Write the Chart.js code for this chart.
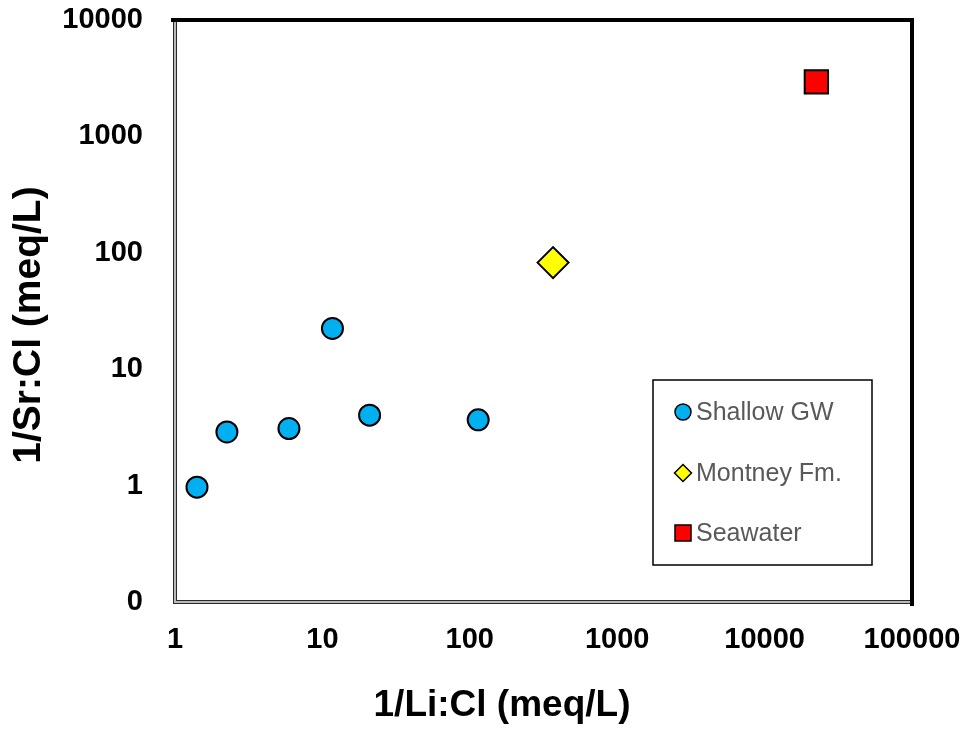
<!DOCTYPE html>
<html>
<head>
<meta charset="utf-8">
<script src="https://cdn.jsdelivr.net/npm/chart.js@4/dist/chart.umd.min.js"></script>
<style>
  html, body { margin: 0; padding: 0; background: #ffffff; }
  #wrap { width: 967px; height: 731px; position: relative; }
</style>
</head>
<body>
<div id="wrap"><canvas id="c" width="967" height="731"></canvas></div>
<script>
// ---- data ----
const seriesNames = ['Shallow GW', 'Montney Fm.', 'Seawater'];
const shallowX = [1.41, 2.25, 5.93, 11.7, 20.9, 114];
const shallowY = [0.97, 2.89, 3.09, 22.4, 4.03, 3.67];
const montneyX = [367];
const montneyY = [82.4];
const seawaterX = [22450];
const seawaterY = [2940];
const xTickValues = [1, 10, 100, 1000, 10000, 100000];
const xTickLabels = ['1', '10', '100', '1000', '10000', '100000'];
const yTickValues = [0.1, 1, 10, 100, 1000, 10000];
const yTickLabels = ['0', '1', '10', '100', '1000', '10000'];
const xTitle = '1/Li:Cl (meq/L)';
const yTitle = '1/Sr:Cl (meq/L)';

const FONT = '"Liberation Sans", Arial, sans-serif';
const toPts = (xs, ys) => xs.map((x, i) => ({ x: x, y: ys[i] }));

const styles = [
  { pointStyle: 'circle', pointRadius: 10.5, backgroundColor: '#00B0F0' },
  { pointStyle: 'rectRot', pointRadius: 15.5, backgroundColor: '#FFFF00' },
  { pointStyle: 'rect', pointRadius: 16.5, backgroundColor: '#FF0000' }
];

const framePlugin = {
  id: 'frame',
  beforeDatasetsDraw(chart) {
    const { ctx, chartArea: a } = chart;
    ctx.save();
    ctx.lineCap = 'square';
    ctx.strokeStyle = '#2a2a2a';
    ctx.lineWidth = 4;
    ctx.beginPath();
    ctx.moveTo(a.left, a.top);
    ctx.lineTo(a.left, a.bottom);
    ctx.lineTo(a.right, a.bottom);
    ctx.stroke();
    ctx.strokeStyle = '#b8b8b8';
    ctx.lineWidth = 2;
    ctx.beginPath();
    ctx.moveTo(a.left, a.top + 1);
    ctx.lineTo(a.left, a.bottom);
    ctx.lineTo(a.right - 1, a.bottom);
    ctx.stroke();
    ctx.strokeStyle = '#000000';
    ctx.lineWidth = 4;
    ctx.beginPath();
    ctx.moveTo(a.left - 2, a.top);
    ctx.lineTo(a.right, a.top);
    ctx.lineTo(a.right, a.bottom + 2);
    ctx.stroke();
    ctx.restore();
  },
  afterDatasetsDraw(chart) {
    const { ctx } = chart;
    ctx.save();
    ctx.strokeStyle = '#000000';
    ctx.lineWidth = 1.5;
    ctx.fillStyle = '#ffffff';
    ctx.fillRect(653, 380, 219, 185);
    ctx.strokeRect(653, 380, 219, 185);
    const rows = [412, 473, 533];
    const mx = 683;
    rows.forEach((y, i) => {
      ctx.fillStyle = styles[i].backgroundColor;
      ctx.strokeStyle = '#000000';
      ctx.lineWidth = 1.5;
      ctx.beginPath();
      if (i === 0) {
        ctx.arc(mx, y, 8, 0, Math.PI * 2);
      } else if (i === 1) {
        ctx.moveTo(mx, y - 8.5); ctx.lineTo(mx + 8.5, y); ctx.lineTo(mx, y + 8.5); ctx.lineTo(mx - 8.5, y); ctx.closePath();
      } else {
        ctx.rect(mx - 8, y - 8, 16, 16);
      }
      ctx.fill();
      ctx.stroke();
      ctx.fillStyle = '#595959';
      ctx.font = '25px ' + FONT;
      ctx.textBaseline = 'middle';
      ctx.textAlign = 'left';
      ctx.fillText(seriesNames[i], 696, y + 1);
    });
    ctx.restore();
  },
  afterDraw(chart) {
    const { ctx } = chart;
    ctx.save();
    ctx.fillStyle = '#000000';
    ctx.textAlign = 'center';
    ctx.textBaseline = 'middle';
    ctx.font = 'bold 37px ' + FONT;
    ctx.fillText(xTitle, 502, 706);
    ctx.font = 'bold 39px ' + FONT;
    ctx.translate(29, 325);
    ctx.rotate(-Math.PI / 2);
    ctx.fillText(yTitle, 0, 0);
    ctx.restore();
  }
};

const data = {
  datasets: [
    { label: seriesNames[0], data: toPts(shallowX, shallowY) },
    { label: seriesNames[1], data: toPts(montneyX, montneyY) },
    { label: seriesNames[2], data: toPts(seawaterX, seawaterY) }
  ].map((d, i) => Object.assign(d, styles[i], {
    borderColor: '#000000',
    borderWidth: 2,
    pointHoverRadius: styles[i].pointRadius,
    showLine: false
  }))
};

function zeroPad(scale) {
  scale.paddingLeft = 0; scale.paddingRight = 0;
  scale.paddingTop = 0; scale.paddingBottom = 0;
}

new Chart(document.getElementById('c'), {
  type: 'scatter',
  data: data,
  plugins: [framePlugin],
  options: {
    responsive: false,
    animation: false,
    devicePixelRatio: 1,
    layout: { padding: { top: 20, right: 55, left: 0, bottom: 0 } },
    plugins: { legend: { display: false }, tooltip: { enabled: false } },
    scales: {
      x: {
        type: 'logarithmic',
        min: 1, max: 100000,
        afterFit(scale) { scale.height = 129; zeroPad(scale); },
        afterBuildTicks(scale) { scale.ticks = xTickValues.map(v => ({ value: v })); },
        grid: { display: false, drawTicks: false },
        border: { display: false },
        ticks: {
          autoSkip: false, maxRotation: 0,
          padding: 21,
          color: '#000000',
          font: { family: FONT, size: 29, weight: 'bold' },
          callback: (v, i) => xTickLabels[i]
        }
      },
      y: {
        type: 'logarithmic',
        min: 0.1, max: 10000,
        afterFit(scale) { scale.width = 175; zeroPad(scale); },
        afterBuildTicks(scale) { scale.ticks = yTickValues.map(v => ({ value: v })); },
        grid: { display: false, drawTicks: false },
        border: { display: false },
        ticks: {
          autoSkip: false,
          padding: 32,
          color: '#000000',
          font: { family: FONT, size: 29, weight: 'bold' },
          callback: (v, i) => yTickLabels[i]
        }
      }
    }
  }
});
</script>
</body>
</html>
